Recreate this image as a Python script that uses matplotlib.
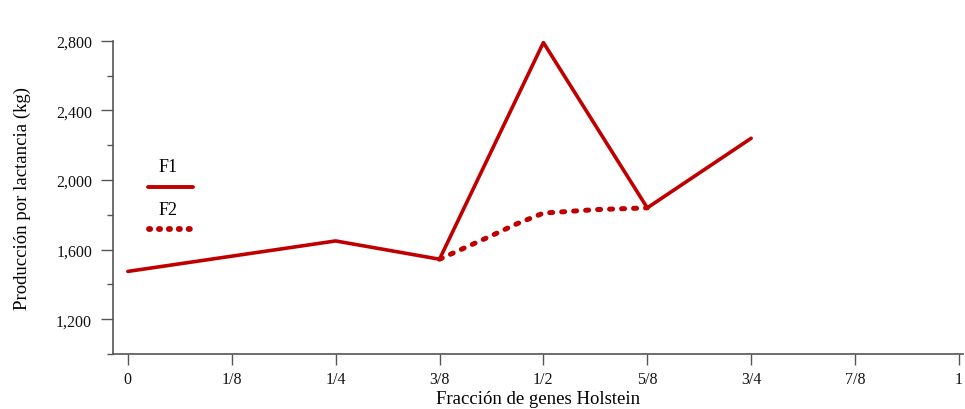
import matplotlib
matplotlib.use("Agg")
import matplotlib.pyplot as plt
from matplotlib.ticker import MultipleLocator, FuncFormatter

# ── data ─────────────────────────────────────────────────────────────────────
x_ticks = [0, 1/8, 1/4, 3/8, 1/2, 5/8, 3/4, 7/8, 1]
x_labels = ["0", "1/8", "1/4", "3/8", "1/2", "5/8", "3/4", "7/8", "1"]

f1_x = [0, 1/4, 3/8, 1/2, 5/8, 3/4]
f1_y = [1475, 1650, 1545, 2790, 1840, 2240]

f2_x = [3/8, 7/16, 15/32, 1/2, 9/16, 5/8]
f2_y = [1545, 1680, 1750, 1810, 1830, 1840]

RED = "#C00000"
AXC = "#555555"

plt.rcParams["font.family"] = ["Liberation Serif", "DejaVu Serif"]

fig = plt.figure(figsize=(9.65, 4.10), dpi=100)
ax = fig.add_axes([0.117, 0.134, 0.881, 0.764])

ax.plot(f1_x, f1_y, color=RED, lw=2.6, solid_capstyle="round", zorder=3)
ax.plot(f2_x, f2_y, color=RED, lw=3.6, linestyle=(0, (0.6, 1.8)),
        dash_capstyle="round", zorder=3)

ax.set_xlim(-0.018, 1.005)
ax.set_ylim(1000, 2800)

ax.set_xticks(x_ticks)
ax.set_xticklabels(x_labels)
ax.yaxis.set_minor_locator(MultipleLocator(200))
ax.set_yticks([1200, 1600, 2000, 2400, 2800])
ax.yaxis.set_major_formatter(FuncFormatter(lambda v, p: f"{int(v):,}"))

for s in ["top", "right"]:
    ax.spines[s].set_visible(False)
for s in ["left", "bottom"]:
    ax.spines[s].set_color(AXC)
    ax.spines[s].set_linewidth(1.2)

ax.tick_params(axis="x", length=8, width=1.0, color=AXC, pad=4,
               labelsize=11.5, labelcolor="#111")
ax.tick_params(axis="y", which="major", length=9, width=1.0, color=AXC,
               pad=6, labelsize=11.5, labelcolor="#111")
ax.tick_params(axis="y", which="minor", length=4, width=1.0, color=AXC)

ax.set_xlabel("Fracción de genes Holstein", fontsize=13.5, labelpad=2)
ax.set_ylabel("Producción por lactancia (kg)", fontsize=13.5, labelpad=18)

# ── manual legend (labels above handles) ────────────────────────────────────
tr = ax.transAxes
ax.text(0.065, 0.60, "F1", transform=tr, ha="center", va="center",
        fontsize=13)
ax.plot([0.041, 0.094], [0.534, 0.534], transform=tr, color=RED, lw=2.8,
        solid_capstyle="round", clip_on=False)
ax.text(0.065, 0.463, "F2", transform=tr, ha="center", va="center",
        fontsize=13)
ax.plot([0.043, 0.092], [0.399, 0.399], transform=tr, color=RED, lw=4.2,
        linestyle=(0, (0.2, 1.5)), dash_capstyle="round", clip_on=False)

fig.savefig("out.png", dpi=100, facecolor="white")
